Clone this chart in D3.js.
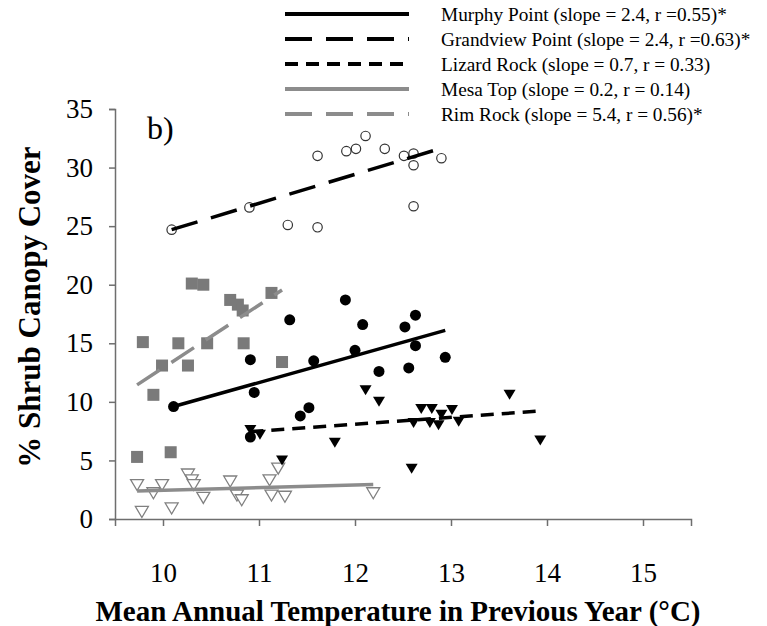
<!DOCTYPE html>
<html>
<head>
<meta charset="utf-8">
<script src="https://cdn.jsdelivr.net/npm/d3@7"></script>
<style>
  body { margin: 0; background: #fff; }
  svg { display: block; }
</style>
</head>
<body>
<div id="chart"></div>
<script>
// values (temperature in °C, canopy cover in %)
const murphyX = [10.11, 10.91, 10.95, 10.91, 11.32, 11.43, 11.52, 11.57, 11.90, 12.00, 12.08, 12.25, 12.52, 12.56, 12.63, 12.63, 12.94];
const murphyY = [9.6, 13.6, 10.8, 7.0, 17.0, 8.8, 9.5, 13.5, 18.7, 14.4, 16.6, 12.6, 16.4, 12.9, 17.4, 14.8, 13.8];

const grandviewX = [10.09, 10.90, 11.30, 11.61, 11.61, 11.91, 12.01, 12.11, 12.31, 12.51, 12.61, 12.61, 12.61, 12.90];
const grandviewY = [24.7, 26.6, 25.1, 24.9, 31.0, 31.4, 31.6, 32.7, 31.6, 31.0, 31.2, 30.2, 26.7, 30.8];

const lizardX = [10.91, 11.01, 11.24, 11.79, 12.11, 12.25, 12.59, 12.69, 12.80, 12.61, 12.78, 12.87, 12.90, 13.01, 13.08, 13.61, 13.93];
const lizardY = [7.6, 7.2, 5.0, 6.5, 11.0, 10.0, 4.3, 9.4, 9.4, 8.2, 8.2, 8.0, 8.9, 9.3, 8.3, 10.6, 6.7];

const mesaX = [9.73, 9.78, 9.90, 9.99, 10.09, 10.26, 10.30, 10.32, 10.42, 10.70, 10.77, 10.82, 11.11, 11.13, 11.20, 11.27, 12.19];
const mesaY = [2.9, 0.6, 2.2, 2.9, 0.9, 3.8, 3.3, 2.9, 1.8, 3.2, 2.0, 1.6, 3.3, 2.0, 4.3, 1.9, 2.2];

const rimX = [9.73, 9.79, 9.90, 9.99, 10.08, 10.16, 10.26, 10.30, 10.42, 10.46, 10.70, 10.78, 10.83, 10.84, 11.13, 11.24];
const rimY = [5.3, 15.1, 10.6, 13.1, 5.7, 15.0, 13.1, 20.1, 20.0, 15.0, 18.7, 18.3, 17.8, 15.0, 19.3, 13.4];

// fitted lines: [x start, y start, x end, y end]
const murphyFit = [10.11, 9.6, 12.94, 16.1];
const grandviewFit = [10.09, 24.7, 12.90, 31.65];
const lizardFit = [10.91, 7.45, 13.90, 9.2];
const mesaFit = [9.73, 2.4, 12.19, 2.95];
const rimFit = [9.73, 11.45, 11.24, 19.55];

const siteNames = ['Murphy Point', 'Grandview Point', 'Lizard Rock', 'Mesa Top', 'Rim Rock'];
const legendLabels = [
    'Murphy Point (slope = 2.4, r =0.55)*',
    'Grandview Point (slope = 2.4, r =0.63)*',
    'Lizard Rock (slope = 0.7, r = 0.33)',
    'Mesa Top (slope = 0.2, r = 0.14)',
    'Rim Rock (slope = 5.4, r = 0.56)*'
];
const xTicks = [10, 11, 12, 13, 14, 15];
const yTicks = [0, 5, 10, 15, 20, 25, 30, 35];

const width = 767, height = 626;
const black = '#000', gray = '#8c8c8c';
const serif = '"Liberation Serif", "Times New Roman", serif';

const sites = [
    { name: siteNames[0], xs: murphyX, ys: murphyY, fit: murphyFit, color: black, dash: null, marker: 'dot' },
    { name: siteNames[1], xs: grandviewX, ys: grandviewY, fit: grandviewFit, color: black, dash: '27,14', marker: 'ring' },
    { name: siteNames[2], xs: lizardX, ys: lizardY, fit: lizardFit, color: black, dash: '13,8', marker: 'tri' },
    { name: siteNames[3], xs: mesaX, ys: mesaY, fit: mesaFit, color: gray, dash: null, marker: 'openTri' },
    { name: siteNames[4], xs: rimX, ys: rimY, fit: rimFit, color: gray, dash: '27,14', marker: 'square' }
];

const svg = d3.select('#chart').append('svg')
    .attr('width', width)
    .attr('height', height);

const x = d3.scaleLinear().domain([9.5, 15.5]).range([115, 691]);
const y = d3.scaleLinear().domain([0, 35]).range([519, 109]);

// axes
const xAxis = svg.append('g')
    .attr('transform', `translate(0,${y(0)})`)
    .call(d3.axisBottom(x).tickValues(xTicks).tickFormat(d3.format('d')).tickSize(7));
const yAxis = svg.append('g')
    .attr('transform', `translate(${x(9.5)},0)`)
    .call(d3.axisLeft(y).tickValues(yTicks).tickFormat(d3.format('d')).tickSize(6).tickPadding(16));

[xAxis, yAxis].forEach(g => {
    g.select('.domain').attr('stroke', '#6e6e6e').attr('stroke-width', 1.5);
    g.selectAll('.tick line').attr('stroke', '#6e6e6e').attr('stroke-width', 1.5);
    g.selectAll('.tick text')
        .attr('fill', '#000')
        .style('font-family', serif)
        .style('font-size', '27px');
});
xAxis.selectAll('.tick text').attr('y', 63).attr('dy', null);

// axis titles
svg.append('text')
    .attr('x', 398)
    .attr('y', 621)
    .attr('text-anchor', 'middle')
    .style('font-family', serif)
    .style('font-weight', 'bold')
    .style('font-size', '29px')
    .text('Mean Annual Temperature in Previous Year (°C)');

svg.append('text')
    .attr('transform', 'translate(40,307) rotate(-90)')
    .attr('text-anchor', 'middle')
    .style('font-family', serif)
    .style('font-weight', 'bold')
    .style('font-size', '31px')
    .text('% Shrub Canopy Cover');

svg.append('text')
    .attr('x', 147)
    .attr('y', 139)
    .style('font-family', serif)
    .style('font-size', '32px')
    .text('b)');

// markers
function drawMarkers(site) {
    const pts = site.xs.map((v, i) => [v, site.ys[i]]);
    const g = svg.append('g');
    if (site.marker === 'dot' || site.marker === 'ring') {
        g.selectAll('circle').data(pts).enter().append('circle')
            .attr('cx', d => x(d[0]))
            .attr('cy', d => y(d[1]))
            .attr('r', site.marker === 'dot' ? 5.5 : 4.7)
            .attr('fill', site.marker === 'dot' ? '#000' : '#fff')
            .attr('stroke', site.marker === 'dot' ? 'none' : '#333')
            .attr('stroke-width', 1.2);
    } else if (site.marker === 'square') {
        const s = 12;
        g.selectAll('rect').data(pts).enter().append('rect')
            .attr('x', d => x(d[0]) - s / 2)
            .attr('y', d => y(d[1]) - s / 2)
            .attr('width', s)
            .attr('height', s)
            .attr('fill', '#7a7a7a');
    } else {
        const filled = site.marker === 'tri';
        const w = filled ? 12 : 13, h = filled ? 10 : 11;
        g.selectAll('path').data(pts).enter().append('path')
            .attr('d', d => {
                const cx = x(d[0]), cy = y(d[1]);
                return `M${cx - w / 2},${cy - h / 2}L${cx + w / 2},${cy - h / 2}L${cx},${cy + h / 2}Z`;
            })
            .attr('fill', filled ? '#000' : '#fff')
            .attr('stroke', filled ? 'none' : '#808080')
            .attr('stroke-width', 1.3);
    }
}

// open marks first, fitted lines drawn over the points
drawMarkers(sites[3]);
drawMarkers(sites[4]);
drawMarkers(sites[1]);
drawMarkers(sites[0]);
drawMarkers(sites[2]);

sites.forEach(site => {
    svg.append('line')
        .attr('x1', x(site.fit[0]))
        .attr('y1', y(site.fit[1]))
        .attr('x2', x(site.fit[2]))
        .attr('y2', y(site.fit[3]))
        .attr('stroke', site.color)
        .attr('stroke-width', 3.5)
        .attr('stroke-dasharray', site.dash);
});

// legend
const legend = svg.append('g');
const rowY = d3.scaleLinear().domain([0, 4]).range([14, 114]);
sites.forEach((site, i) => {
    legend.append('line')
        .attr('x1', 285)
        .attr('x2', 409)
        .attr('y1', rowY(i))
        .attr('y2', rowY(i))
        .attr('stroke', site.color)
        .attr('stroke-width', 4)
        .attr('stroke-dasharray', site.dash);
    legend.append('text')
        .attr('x', 441)
        .attr('y', rowY(i) + 6.5)
        .style('font-family', serif)
        .style('font-size', '19.3px')
        .text(legendLabels[i]);
});
</script>
</body>
</html>
